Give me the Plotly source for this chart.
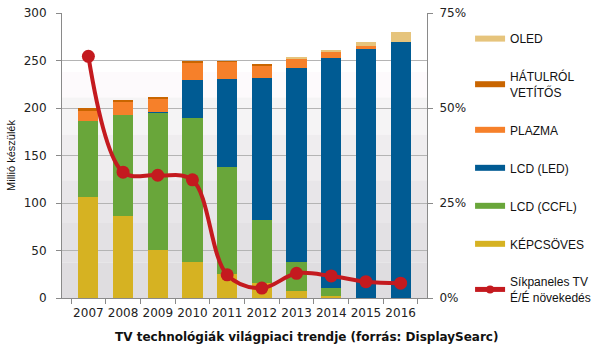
import plotly.graph_objects as go

years = ["2007", "2008", "2009", "2010", "2011", "2012", "2013", "2014", "2015", "2016"]
crt = [106, 86, 51, 38, 25, 15.5, 7.5, 2.5, 0, 0]
lcd_ccfl = [80, 107, 144, 152, 113, 66.5, 30.5, 8.5, 0, 0]
lcd_led = [0, 0, 1, 40, 92.5, 150, 204.5, 242, 262, 270]
plasma = [11, 14, 14.5, 18, 18, 13, 9.5, 6, 3, 0]
rear = [2.5, 1.5, 1, 1, 0.7, 0.7, 0, 0, 0, 0]
oled = [0, 0, 0, 0, 0, 0, 1, 2, 4.5, 10.5]
growth = [63.6, 33.1, 32.3, 31.1, 6.1, 2.6, 6.5, 5.8, 4.3, 3.9]

C_OLED = "#e6c47c"
C_REAR = "#c96500"
C_PLASMA = "#f6802a"
C_LED = "#005b93"
C_CCFL = "#69a63a"
C_CRT = "#d6b222"
C_LINE = "#c41a1f"

fig = go.Figure()

series = [
    ("KÉPCSÖVES", crt, C_CRT),
    ("LCD (CCFL)", lcd_ccfl, C_CCFL),
    ("LCD (LED)", lcd_led, C_LED),
    ("PLAZMA", plasma, C_PLASMA),
    ("HÁTULRÓL<br>VETÍTŐS", rear, C_REAR),
    ("OLED", oled, C_OLED),
]
for name, vals, col in series:
    fig.add_trace(go.Bar(x=years, y=vals, name=name, marker=dict(color=col, line=dict(width=0)),
                         showlegend=False, width=0.58))

fig.add_trace(go.Scatter(x=years, y=growth, yaxis="y2", mode="lines+markers", name="Síkpaneles TV<br>É/É növekedés",
                         line=dict(color=C_LINE, width=4, shape="spline", smoothing=1.0),
                         marker=dict(color=C_LINE, size=13), showlegend=False))

# legend entries (wide line symbols like the original)
legend_items = [
    ("OLED", C_OLED), ("HÁTULRÓL<br>VETÍTŐS", C_REAR), ("PLAZMA", C_PLASMA),
    ("LCD (LED)", C_LED), ("LCD (CCFL)", C_CCFL), ("KÉPCSÖVES", C_CRT),
]
for i, (name, col) in enumerate(legend_items):
    fig.add_trace(go.Scatter(x=[None], y=[None], mode="lines", name=name, legendrank=i + 1,
                             legendgroup="g%d" % i, line=dict(color=col, width=6)))
fig.add_trace(go.Scatter(x=[None], y=[None], mode="lines+markers", name="Síkpaneles TV<br>É/É növekedés",
                         legendrank=10, legendgroup="g9",
                         line=dict(color=C_LINE, width=5), marker=dict(color=C_LINE, size=8)))

# background bands
bands = [
    (238, 300, "#ffffff"), (211, 238, "#fdfafc"), (172, 211, "#f5f4f5"), (124, 172, "#efedef"),
    (79, 124, "#e8e6e9"), (37, 79, "#e3e1e4"), (0, 37, "#dfdde0"),
]
for y0, y1, col in bands:
    fig.add_shape(type="rect", xref="paper", yref="y", x0=0, x1=1, y0=y0, y1=y1,
                  fillcolor=col, line=dict(width=0), layer="below")

tick_font = dict(family="DejaVu Sans", size=12, color="#222222")

fig.update_layout(
    width=600, height=353,
    margin=dict(l=62, r=173, t=13, b=55, autoexpand=False),
    paper_bgcolor="white", plot_bgcolor="rgba(0,0,0,0)",
    barmode="stack", bargap=0.42,
    xaxis=dict(type="category", showline=True, linecolor="#8a8a8a", linewidth=1, tickangle=0,
               ticks="outside", tickson="boundaries", ticklen=5, tickcolor="#8a8a8a",
               tickfont=tick_font, showgrid=False, mirror=False, ticklabelstandoff=4, automargin=False),
    yaxis=dict(range=[0, 300], dtick=50, showline=True, linecolor="#8a8a8a", linewidth=1,
               ticks="outside", ticklen=5, tickcolor="#8a8a8a", tickfont=tick_font,
               gridcolor="#b4b4b4", gridwidth=1, zeroline=False, ticklabelstandoff=7, automargin=False,
               title=dict(text="Millió készülék", font=dict(family="Liberation Sans", size=11, color="#111"),
                          standoff=5)),
    yaxis2=dict(range=[0, 75], dtick=25, overlaying="y", side="right", showline=True,
                linecolor="#8a8a8a", linewidth=1, ticks="outside", ticklen=5, tickcolor="#8a8a8a",
                tickfont=tick_font, ticksuffix="%", showgrid=False, zeroline=False, ticklabelstandoff=4,
                automargin=False),
    legend=dict(x=1.118, xanchor="left", y=0.961, yanchor="top", font=dict(family="Liberation Sans", size=12, color="#111"),
                tracegroupgap=19, bgcolor="rgba(0,0,0,0)", itemwidth=30, traceorder="grouped", valign="middle",
                maxheight=345),
    showlegend=True,
)

fig.add_annotation(text="<b>TV technológiák világpiaci trendje (forrás: DisplaySearc)</b>",
                   xref="paper", yref="paper", x=(306 - 62) / 365, y=-0.105, xanchor="center", yanchor="top",
                   showarrow=False, font=dict(family="DejaVu Sans", size=12, color="#111"))

fig.write_html("out.html")
